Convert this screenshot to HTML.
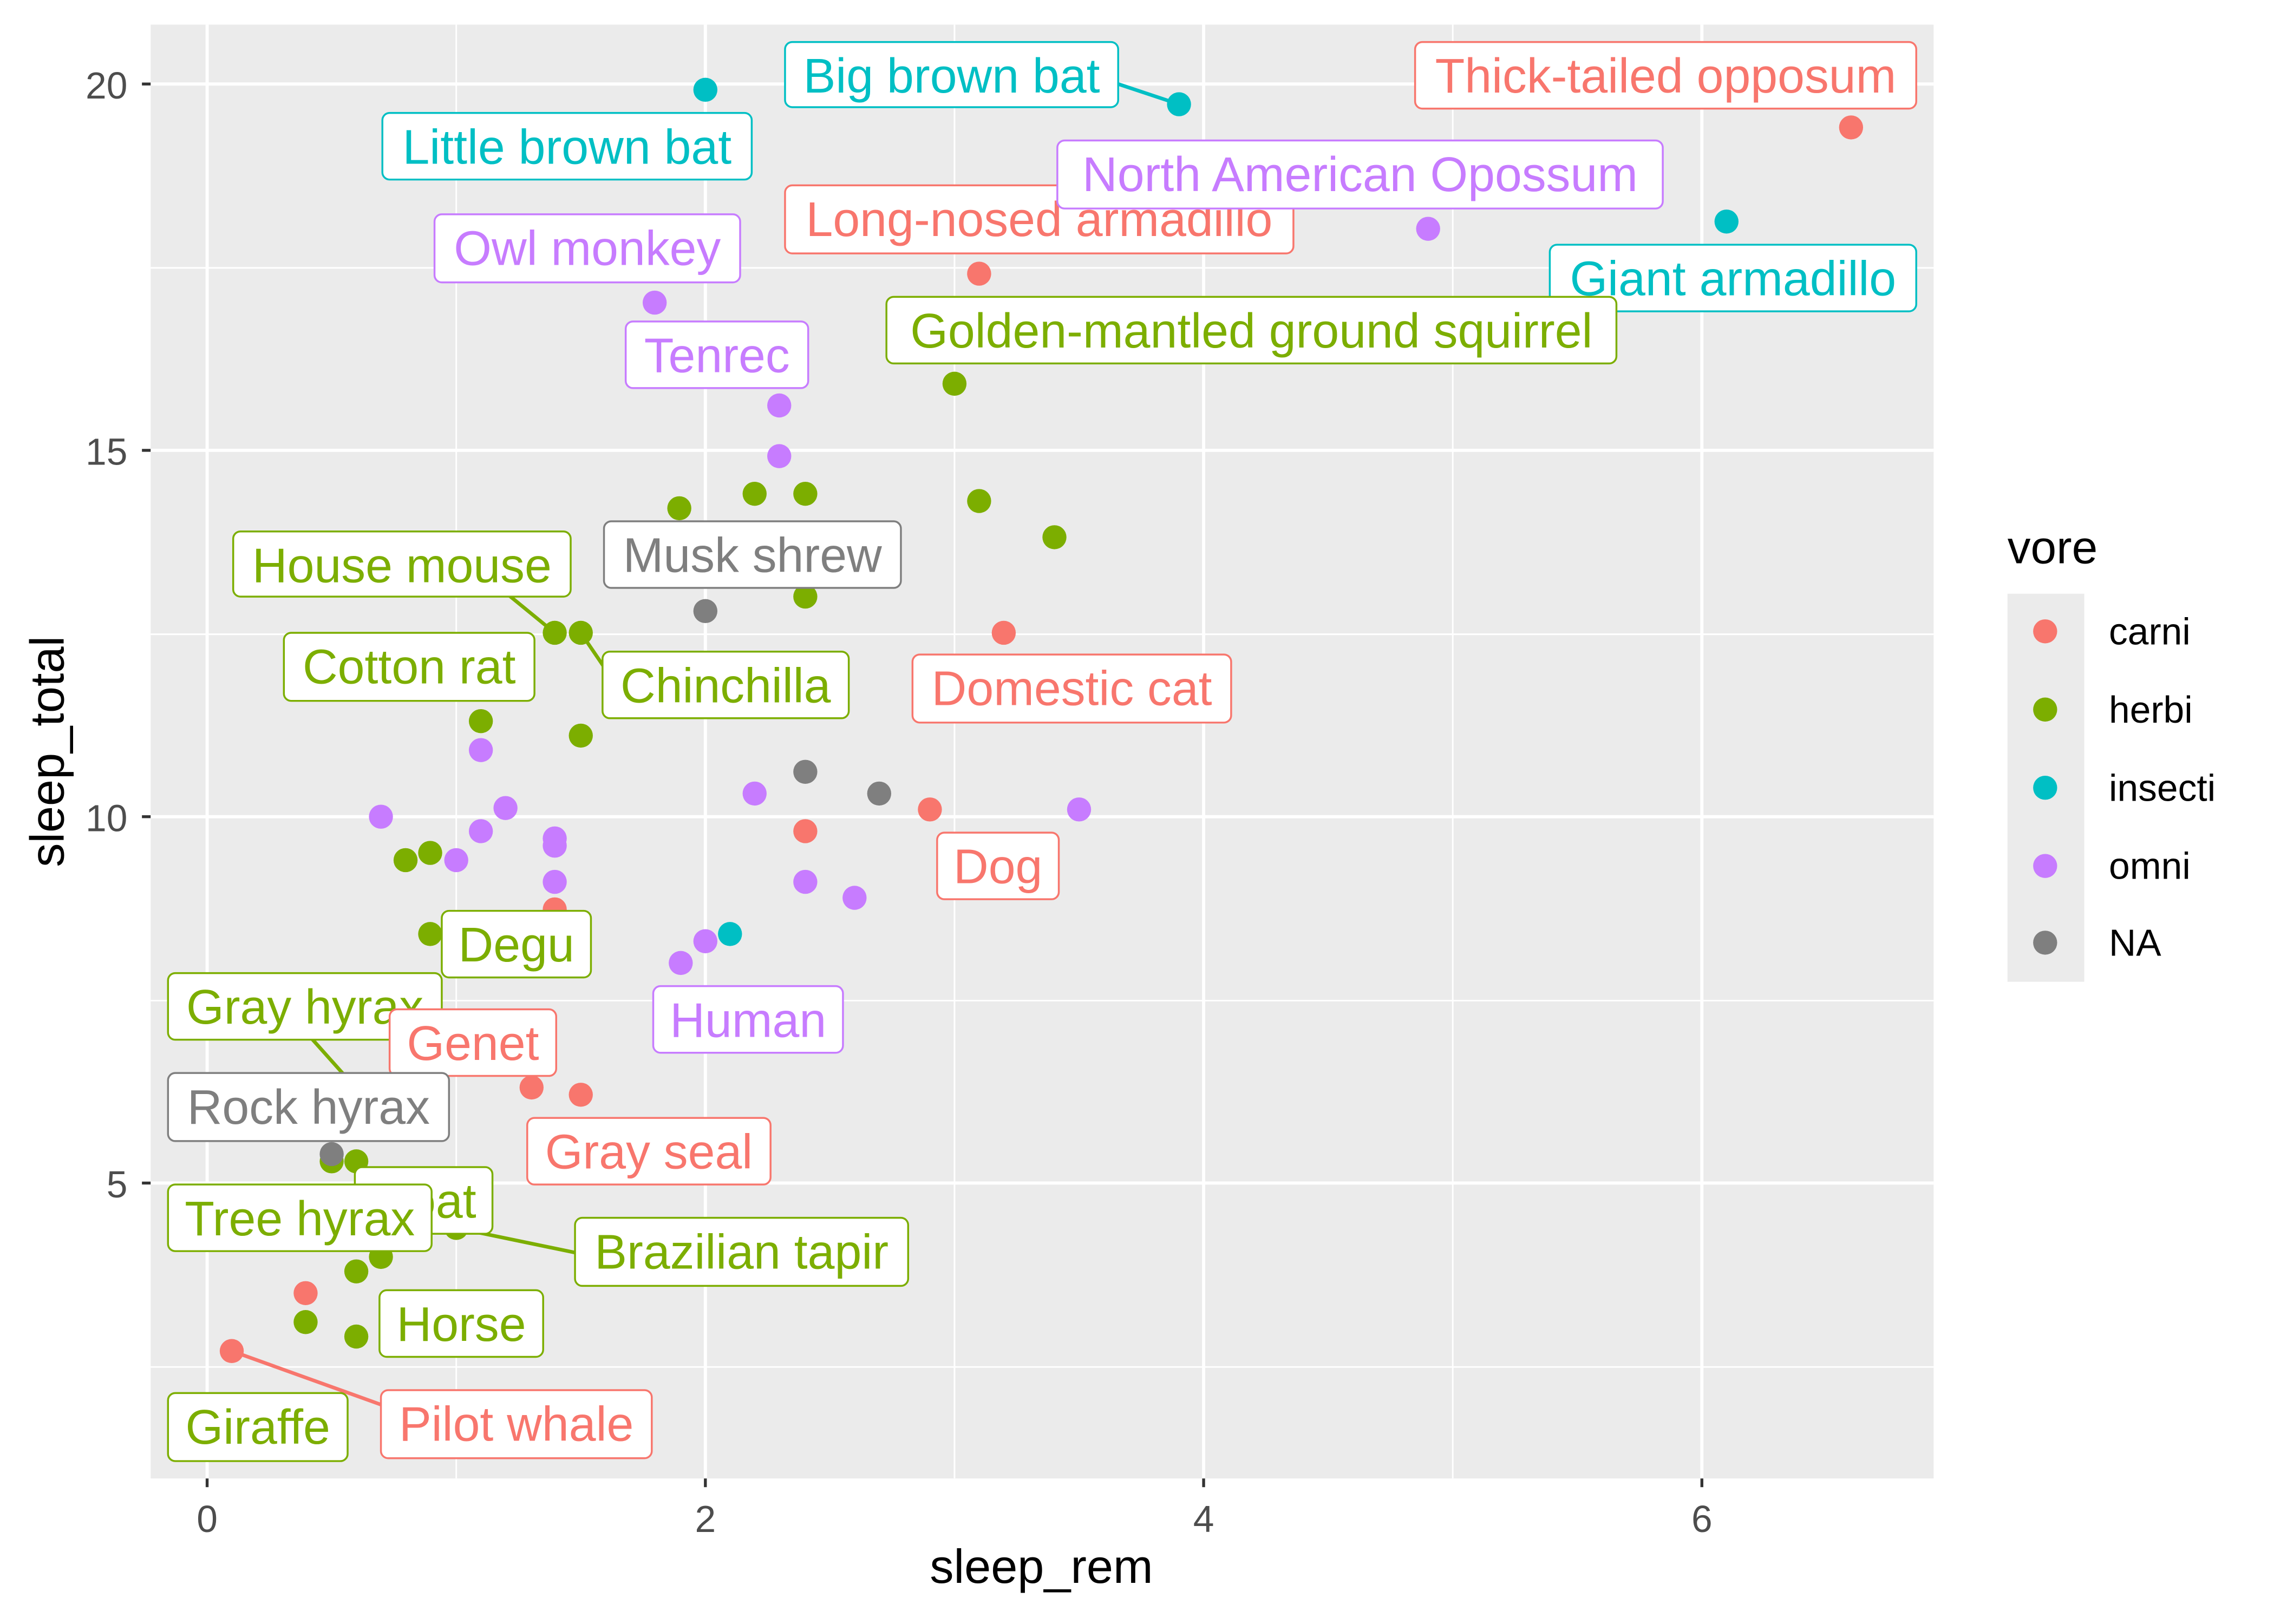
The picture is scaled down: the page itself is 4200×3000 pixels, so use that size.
<!DOCTYPE html>
<html><head><meta charset="utf-8"><style>html,body{margin:0;padding:0;background:#fff}svg{display:block}</style></head>
<body>
<svg width="4200" height="3000" viewBox="0 0 1570 1121.5" preserveAspectRatio="none" xmlns="http://www.w3.org/2000/svg" font-family="Liberation Sans, sans-serif">
<rect x="0" y="0" width="1570" height="1121.5" fill="#fff"/>
<rect x="104" y="17" width="1231" height="1004" fill="#EBEBEB"/>
<g stroke="#fff" stroke-width="1.1">
<line x1="315" y1="17" x2="315" y2="1021"/><line x1="659" y1="17" x2="659" y2="1021"/><line x1="1003" y1="17" x2="1003" y2="1021"/>
<line x1="104" y1="185" x2="1335" y2="185"/><line x1="104" y1="438" x2="1335" y2="438"/><line x1="104" y1="691" x2="1335" y2="691"/><line x1="104" y1="944" x2="1335" y2="944"/>
</g>
<g stroke="#fff" stroke-width="2.2">
<line x1="143" y1="17" x2="143" y2="1021"/><line x1="487" y1="17" x2="487" y2="1021"/><line x1="831" y1="17" x2="831" y2="1021"/><line x1="1175" y1="17" x2="1175" y2="1021"/>
<line x1="104" y1="58" x2="1335" y2="58"/><line x1="104" y1="311" x2="1335" y2="311"/><line x1="104" y1="564" x2="1335" y2="564"/><line x1="104" y1="817" x2="1335" y2="817"/>
</g>
<g stroke="#333" stroke-width="2">
<line x1="143" y1="1021" x2="143" y2="1027"/><line x1="487" y1="1021" x2="487" y2="1027"/><line x1="831" y1="1021" x2="831" y2="1027"/><line x1="1175" y1="1021" x2="1175" y2="1027"/>
<line x1="98" y1="58" x2="104" y2="58"/><line x1="98" y1="311" x2="104" y2="311"/><line x1="98" y1="564" x2="104" y2="564"/><line x1="98" y1="817" x2="104" y2="817"/>
</g>
<g fill="#4D4D4D" font-size="26">
<text x="143" y="1058" text-anchor="middle">0</text><text x="487" y="1058" text-anchor="middle">2</text><text x="831" y="1058" text-anchor="middle">4</text><text x="1175" y="1058" text-anchor="middle">6</text>
<text x="88" y="68" text-anchor="end">20</text><text x="88" y="321" text-anchor="end">15</text><text x="88" y="574" text-anchor="end">10</text><text x="88" y="827" text-anchor="end">5</text>
</g>
<text x="719" y="1093" text-anchor="middle" font-size="33">sleep_rem</text>
<text x="0" y="0" transform="translate(44,519) rotate(-90)" text-anchor="middle" font-size="33">sleep_total</text>
<g stroke-width="2.5" fill="none">
<line x1="772" y1="58" x2="814" y2="72" stroke="#00BFC4"/>
<line x1="350" y1="410" x2="383" y2="437" stroke="#7CAE00"/>
<line x1="401" y1="437" x2="418" y2="462" stroke="#7CAE00"/>
<line x1="215" y1="717" x2="240" y2="745" stroke="#7CAE00"/>
<line x1="315" y1="848" x2="397" y2="865" stroke="#7CAE00"/>
<line x1="160" y1="933" x2="263" y2="970" stroke="#F8766D"/>
</g>
<g fill="#00BFC4"><circle cx="487" cy="62" r="8.3"/><circle cx="814" cy="72" r="8.3"/><circle cx="1192" cy="153" r="8.3"/><circle cx="504" cy="645" r="8.3"/></g>
<g fill="#F8766D"><circle cx="1278" cy="88" r="8.3"/><circle cx="676" cy="189" r="8.3"/><circle cx="693" cy="437" r="8.3"/><circle cx="642" cy="559" r="8.3"/><circle cx="556" cy="574" r="8.3"/><circle cx="383" cy="628" r="8.3"/><circle cx="367" cy="751" r="8.3"/><circle cx="401" cy="756" r="8.3"/><circle cx="211" cy="893" r="8.3"/><circle cx="160" cy="933" r="8.3"/></g>
<g fill="#C77CFF"><circle cx="986" cy="158" r="8.3"/><circle cx="452" cy="209" r="8.3"/><circle cx="538" cy="280" r="8.3"/><circle cx="538" cy="315" r="8.3"/><circle cx="349" cy="558" r="8.3"/><circle cx="332" cy="574" r="8.3"/><circle cx="332" cy="518" r="8.3"/><circle cx="263" cy="564" r="8.3"/><circle cx="315" cy="594" r="8.3"/><circle cx="383" cy="579" r="8.3"/><circle cx="383" cy="584" r="8.3"/><circle cx="383" cy="609" r="8.3"/><circle cx="521" cy="548" r="8.3"/><circle cx="745" cy="559" r="8.3"/><circle cx="556" cy="609" r="8.3"/><circle cx="590" cy="620" r="8.3"/><circle cx="470" cy="665" r="8.3"/><circle cx="487" cy="650" r="8.3"/></g>
<g fill="#7CAE00"><circle cx="659" cy="265" r="8.3"/><circle cx="469" cy="351" r="8.3"/><circle cx="521" cy="341" r="8.3"/><circle cx="556" cy="341" r="8.3"/><circle cx="676" cy="346" r="8.3"/><circle cx="728" cy="371" r="8.3"/><circle cx="556" cy="412" r="8.3"/><circle cx="383" cy="437" r="8.3"/><circle cx="401" cy="437" r="8.3"/><circle cx="332" cy="498" r="8.3"/><circle cx="401" cy="508" r="8.3"/><circle cx="280" cy="594" r="8.3"/><circle cx="297" cy="589" r="8.3"/><circle cx="297" cy="645" r="8.3"/><circle cx="229" cy="802" r="8.3"/><circle cx="246" cy="802" r="8.3"/><circle cx="263" cy="868" r="8.3"/><circle cx="246" cy="878" r="8.3"/><circle cx="211" cy="913" r="8.3"/><circle cx="246" cy="923" r="8.3"/><circle cx="315" cy="848" r="8.3"/></g>
<g fill="#7F7F7F"><circle cx="487" cy="422" r="8.3"/><circle cx="556" cy="533" r="8.3"/><circle cx="607" cy="548" r="8.3"/><circle cx="229" cy="797" r="8.3"/></g>
<g font-size="33.5" text-anchor="middle" stroke-width="1.3">
<g stroke="#00BFC4" fill="#fff"><rect x="542" y="29" width="230" height="45" rx="5"/></g><text x="657" y="64" fill="#00BFC4">Big brown bat</text>
<g stroke="#00BFC4" fill="#fff"><rect x="264" y="78" width="255" height="46" rx="5"/></g><text x="391.5" y="113" fill="#00BFC4">Little brown bat</text>
<g stroke="#F8766D" fill="#fff"><rect x="977" y="29" width="346" height="46" rx="5"/></g><text x="1150" y="64" fill="#F8766D">Thick-tailed opposum</text>
<g stroke="#F8766D" fill="#fff"><rect x="542" y="128" width="351" height="47" rx="5"/></g><text x="717.5" y="163" fill="#F8766D">Long-nosed armadillo</text>
<g stroke="#C77CFF" fill="#fff"><rect x="730" y="97" width="418" height="47" rx="5"/></g><text x="939" y="132" fill="#C77CFF">North American Opossum</text>
<g stroke="#00BFC4" fill="#fff"><rect x="1070" y="169" width="253" height="46" rx="5"/></g><text x="1196.5" y="204" fill="#00BFC4">Giant armadillo</text>
<g stroke="#C77CFF" fill="#fff"><rect x="300" y="148" width="211" height="47" rx="5"/></g><text x="405.5" y="183" fill="#C77CFF">Owl monkey</text>
<g stroke="#7CAE00" fill="#fff"><rect x="612" y="205" width="504" height="46" rx="5"/></g><text x="864" y="240" fill="#7CAE00">Golden-mantled ground squirrel</text>
<g stroke="#C77CFF" fill="#fff"><rect x="432" y="222" width="126" height="46" rx="5"/></g><text x="495" y="257" fill="#C77CFF">Tenrec</text>
<g stroke="#7CAE00" fill="#fff"><rect x="161" y="367" width="233" height="45" rx="5"/></g><text x="277.5" y="402" fill="#7CAE00">House mouse</text>
<g stroke="#7F7F7F" fill="#fff"><rect x="417" y="360" width="205" height="46" rx="5"/></g><text x="519.5" y="395" fill="#7F7F7F">Musk shrew</text>
<g stroke="#7CAE00" fill="#fff"><rect x="416" y="450" width="170" height="46" rx="5"/></g><text x="501" y="485" fill="#7CAE00">Chinchilla</text>
<g stroke="#7CAE00" fill="#fff"><rect x="196" y="437" width="173" height="47" rx="5"/></g><text x="282.5" y="472" fill="#7CAE00">Cotton rat</text>
<g stroke="#F8766D" fill="#fff"><rect x="630" y="452" width="220" height="47" rx="5"/></g><text x="740" y="487" fill="#F8766D">Domestic cat</text>
<g stroke="#F8766D" fill="#fff"><rect x="647" y="575" width="84" height="46" rx="5"/></g><text x="689" y="610" fill="#F8766D">Dog</text>
<g stroke="#7CAE00" fill="#fff"><rect x="305" y="629" width="103" height="46" rx="5"/></g><text x="356.5" y="664" fill="#7CAE00">Degu</text>
<g stroke="#C77CFF" fill="#fff"><rect x="451" y="681" width="131" height="46" rx="5"/></g><text x="516.5" y="716" fill="#C77CFF">Human</text>
<g stroke="#7CAE00" fill="#fff"><rect x="116" y="672" width="189" height="46" rx="5"/></g><text x="210.5" y="707" fill="#7CAE00">Gray hyrax</text>
<g stroke="#F8766D" fill="#fff"><rect x="269" y="697" width="115" height="46" rx="5"/></g><text x="326.5" y="732" fill="#F8766D">Genet</text>
<g stroke="#7F7F7F" fill="#fff"><rect x="116" y="741" width="194" height="47" rx="5"/></g><text x="213" y="776" fill="#7F7F7F">Rock hyrax</text>
<g stroke="#F8766D" fill="#fff"><rect x="364" y="772" width="168" height="46" rx="5"/></g><text x="448" y="807" fill="#F8766D">Gray seal</text>
<g stroke="#7CAE00" fill="#fff"><rect x="245" y="806" width="95" height="46" rx="5"/></g><text x="292.5" y="841" fill="#7CAE00">Goat</text>
<g stroke="#7CAE00" fill="#fff"><rect x="116" y="818" width="182" height="46" rx="5"/></g><text x="207" y="853" fill="#7CAE00">Tree hyrax</text>
<g stroke="#7CAE00" fill="#fff"><rect x="397" y="841" width="230" height="47" rx="5"/></g><text x="512" y="876" fill="#7CAE00">Brazilian tapir</text>
<g stroke="#7CAE00" fill="#fff"><rect x="262" y="891" width="113" height="46" rx="5"/></g><text x="318.5" y="926" fill="#7CAE00">Horse</text>
<g stroke="#7CAE00" fill="#fff"><rect x="116" y="962" width="124" height="47" rx="5"/></g><text x="178" y="997" fill="#7CAE00">Giraffe</text>
<g stroke="#F8766D" fill="#fff"><rect x="263" y="960" width="187" height="47" rx="5"/></g><text x="356.5" y="995" fill="#F8766D">Pilot whale</text>
</g>
<text x="1386" y="389" font-size="32">vore</text>
<rect x="1386" y="410" width="53" height="268" fill="#EBEBEB"/>
<circle cx="1412" cy="436" r="8.3" fill="#F8766D"/><circle cx="1412" cy="490" r="8.3" fill="#7CAE00"/><circle cx="1412" cy="544" r="8.3" fill="#00BFC4"/><circle cx="1412" cy="598" r="8.3" fill="#C77CFF"/><circle cx="1412" cy="651" r="8.3" fill="#7F7F7F"/>
<g font-size="26" fill="#000"><text x="1456" y="445">carni</text><text x="1456" y="499">herbi</text><text x="1456" y="553">insecti</text><text x="1456" y="607">omni</text><text x="1456" y="660">NA</text></g>
</svg>
</body></html>
